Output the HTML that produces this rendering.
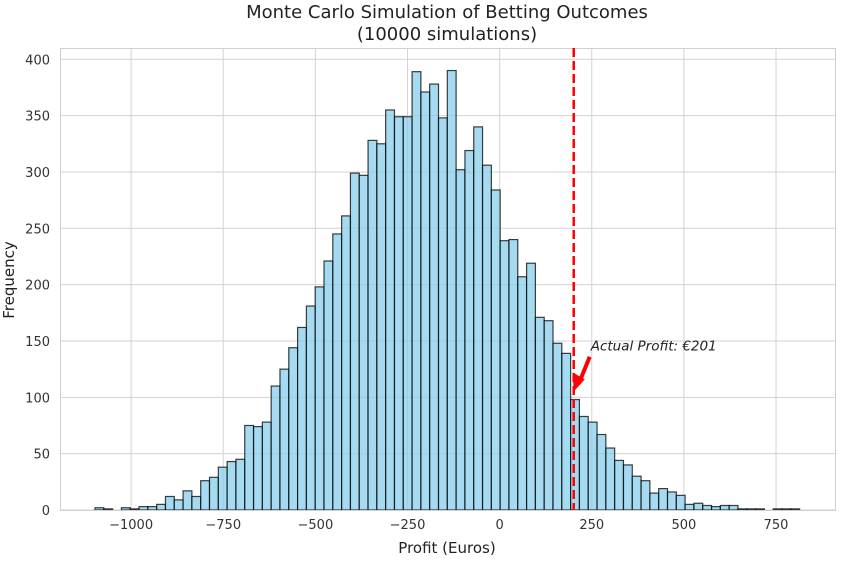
<!DOCTYPE html>
<html><head><meta charset="utf-8"><style>
body{margin:0;background:#fff;}
svg text{font-family:"DejaVu Sans","Liberation Sans",sans-serif;}
</style></head><body>
<svg id="chart" width="842" height="559" viewBox="0 0 842 559">
<rect x="0" y="0" width="842" height="559" fill="#fff"/>
<g id="grid"></g>
<g id="bars"></g>
<rect x="60.5" y="48.5" width="775" height="462" fill="none" stroke="#d0d0d0" stroke-width="1"/>
<g id="ticks"></g>
<text x="447" y="18" text-anchor="middle" font-size="18" fill="#222">Monte Carlo Simulation of Betting Outcomes</text>
<text x="447" y="40" text-anchor="middle" font-size="18" fill="#222">(10000 simulations)</text>
<text x="447" y="553" text-anchor="middle" font-size="15" fill="#222">Profit (Euros)</text>
<text transform="translate(14,280) rotate(-90)" text-anchor="middle" font-size="15" fill="#222">Frequency</text>
<g id="annot"></g>
</svg>
<script>
const counts=[2,1,0,2,1,3,3,5,12,9,17,12,26,29,38,43,45,75,74,78,110,125,144,162,181,198,221,245,261,299,297,328,325,355,349,349,389,371,378,348,390,302,319,340,306,284,239,240,207,219,171,168,148,139,98,83,78,67,55,44,40,30,26,15,19,16,13,5,6,4,3,4,4,1,1,1,0,1,1,1];
const binStart=-1098;
const binWidth=23.9;
const xTicks=[-1000,-750,-500,-250,0,250,500,750];
const xTickLabels=["−1000","−750","−500","−250","0","250","500","750"];
const yTicks=[0,50,100,150,200,250,300,350,400];
const actualProfit=201;
const annotationLabel="Actual Profit: €201";

const X0=60,X1=835,Y0=510,Y1=48;
const xMin=-1193,xMax=910,yMin=0,yMax=410;
const sx=v=>X0+(v-xMin)/(xMax-xMin)*(X1-X0);
const sy=v=>Y0-(v-yMin)/(yMax-yMin)*(Y0-Y1);
const NS="http://www.w3.org/2000/svg";
function mk(tag,attrs,parent){const e=document.createElementNS(NS,tag);for(const k in attrs)e.setAttribute(k,attrs[k]);parent.appendChild(e);return e;}
const grid=document.getElementById('grid'),bars=document.getElementById('bars'),ticks=document.getElementById('ticks'),annot=document.getElementById('annot');
xTicks.forEach((t,i)=>{
  const l=mk('line',{x1:sx(t),x2:sx(t),y1:Y1,y2:Y0,stroke:'#d3d3d3','stroke-width':1},grid);
  
  
  const tx=mk('text',{x:sx(t),y:Y0+19,'text-anchor':'middle','font-size':13,fill:'#333'},ticks);
  tx.textContent=xTickLabels[i];
  
  
});
yTicks.forEach(t=>{
  const l=mk('line',{x1:X0,x2:X1,y1:sy(t),y2:sy(t),stroke:'#d3d3d3','stroke-width':1},grid);
  
  
  const tx=mk('text',{x:X0-10,y:sy(t)+5,'text-anchor':'end','font-size':13,fill:'#333'},ticks);
  tx.textContent=String(t);
  
  
});
counts.forEach((c,i)=>{
  if(c<=0)return;
  const a=binStart+i*binWidth,b=a+binWidth;
  const r=mk('rect',{x:sx(a),y:sy(c),width:sx(b)-sx(a),height:sy(0)-sy(c),fill:'#87ceeb','fill-opacity':0.75,stroke:'#000','stroke-opacity':0.75,'stroke-width':1.2},bars);
  
  
});
const ax=sx(actualProfit);
const vl=mk('line',{x1:ax,x2:ax,y1:Y1,y2:Y0,stroke:'#ff0000','stroke-width':2.5,'stroke-dasharray':'9,4'},annot);


const ar=mk('line',{x1:ax+16,x2:ax+5,y1:sy(136),y2:sy(112),stroke:'#ff0000','stroke-width':4},annot);


const ah=mk('polygon',{points:`${ax},${sy(105)} ${ax-1},${sy(122)} ${ax+11},${sy(116)}`,fill:'#ff0000'},annot);


const at=mk('text',{x:ax+17,y:sy(146)+5,'font-size':13.5,'font-style':'italic',fill:'#222'},annot);
at.textContent=annotationLabel;


</script>
</body></html>
